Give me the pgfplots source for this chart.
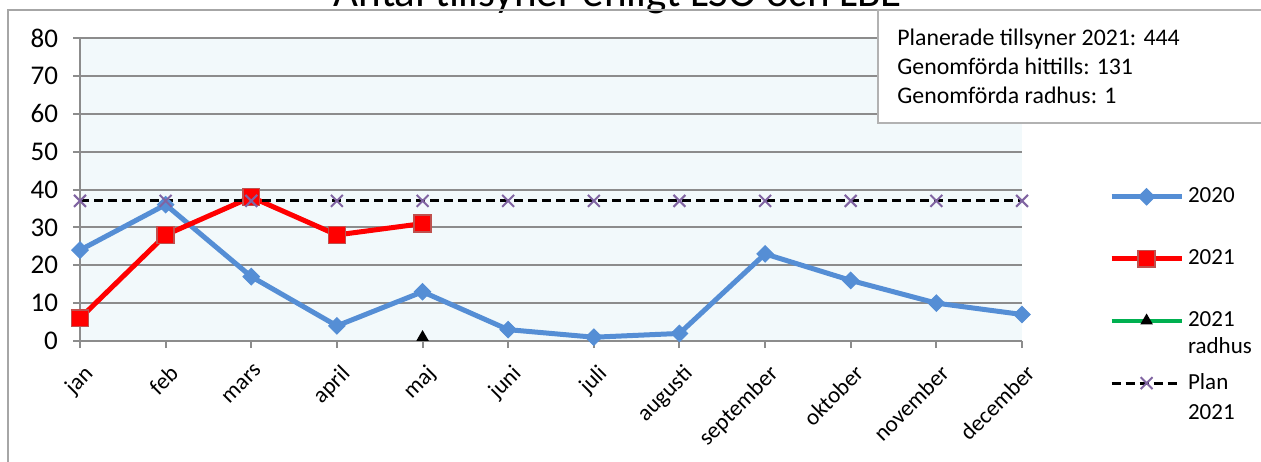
\documentclass[border=0pt]{standalone}
\usepackage{fontspec}
\setmainfont{Carlito}
\usepackage{pgfplots}
\pgfplotsset{compat=1.18}
\definecolor{blue20}{HTML}{558ED5}
\definecolor{red21}{HTML}{FF0000}
\definecolor{redborder}{HTML}{C0504D}
\definecolor{green21}{HTML}{00B050}
\definecolor{planx}{HTML}{8064A2}
\definecolor{gridgray}{HTML}{8C8C8C}
\definecolor{plotbg}{HTML}{F2F9FB}

\begin{document}
\begin{tikzpicture}
\useasboundingbox (0,0) rectangle (630.5pt,230.5pt);
\clip (0,0) rectangle (630.5pt,230.5pt);
% chart frame and (cut) title
\node[font=\fontsize{21.5}{24}\selectfont, anchor=base, inner sep=0pt] at (309pt,227pt) {Antal tillsyner enligt LSO och LBE};
\draw[color=gray!70, line width=1pt] (4pt,-5pt) -- (4pt,225.3pt) -- (440pt,225.3pt);
\begin{axis}[
  at={(40pt,60pt)}, anchor=south west,
  scale only axis, width=471pt, height=151.5pt,
  xmin=0, xmax=11, ymin=0, ymax=80,
  axis x line*=bottom, axis y line*=left,
  axis line style={gridgray, line width=1pt},
  xtick={0,...,11},
  xticklabels={jan,feb,mars,april,maj,juni,juli,augusti,september,oktober,november,december},
  ytick={0,10,...,80},
  ymajorgrids, grid style={gridgray, line width=1pt},
  tick style={gridgray, line width=1pt},
  tick align=outside, major tick length=3.5pt,
  xticklabel style={rotate=45, anchor=north east, font=\fontsize{11.5}{13}\selectfont, yshift=-3pt, xshift=-1pt},
  yticklabel style={font=\fontsize{13.5}{15}\selectfont, xshift=-4pt},
  /pgf/number format/assume math mode=true,
  axis background/.style={fill=plotbg},
  clip=false,
  legend cell align=left,
  legend image code/.code={\draw[mark repeat=2,mark phase=2,#1] plot coordinates {(0pt,0pt)(17.5pt,0pt)(35pt,0pt)};},
  legend style={draw=none, fill=none, at={(axis description cs:1.092,0.52)}, anchor=north west,
    row sep=18pt, inner sep=0pt, font=\fontsize{11.5}{13}\selectfont},
]
\addplot[blue20, line width=2.5pt, mark=square*, mark options={rotate=45, fill=blue20, draw=blue20, line width=0.5pt, mark size=2.9pt}]
  coordinates {(0,24) (1,36) (2,17) (3,4) (4,13) (5,3) (6,1) (7,2) (8,23) (9,16) (10,10) (11,7)};
\addlegendentry{2020}
\addplot[red21, line width=2.5pt, mark=square*, mark options={fill=red21, draw=redborder, line width=0.8pt, mark size=4.2pt}]
  coordinates {(0,6) (1,28) (2,38) (3,28) (4,31)};
\addlegendentry{2021}
\addplot[green21, line width=2pt, mark=triangle*, mark options={black, fill=black, mark size=1.6pt}]
  coordinates {(4,1)};
\addlegendentry{\makebox[0pt][l]{\raisebox{-13.5pt}[0pt][0pt]{radhus}}2021}
\addplot[black, line width=1.5pt, dash pattern=on 4.5pt off 2.5pt, mark=x, mark options={planx, solid, line width=1pt, mark size=4.2pt}]
  coordinates {(0,37) (1,37) (2,37) (3,37) (4,37) (5,37) (6,37) (7,37) (8,37) (9,37) (10,37) (11,37)};
\addlegendentry{\makebox[0pt][l]{\raisebox{-15pt}[0pt][0pt]{2021}}Plan}
\end{axis}
% info box
\draw[gray!60, fill=white, line width=0.8pt] (439pt,225.5pt) rectangle (640pt,169pt);
\begin{scope}[every node/.style={anchor=base west, inner sep=0pt, font=\fontsize{11.9}{13}\selectfont}]
\node at (448.5pt,207.5pt) {Planerade tillsyner 2021: 444};
\node at (448.5pt,193pt) {Genomförda hittills: 131};
\node at (448.5pt,178.5pt) {Genomförda radhus: 1};
\end{scope}
\end{tikzpicture}
\end{document}
